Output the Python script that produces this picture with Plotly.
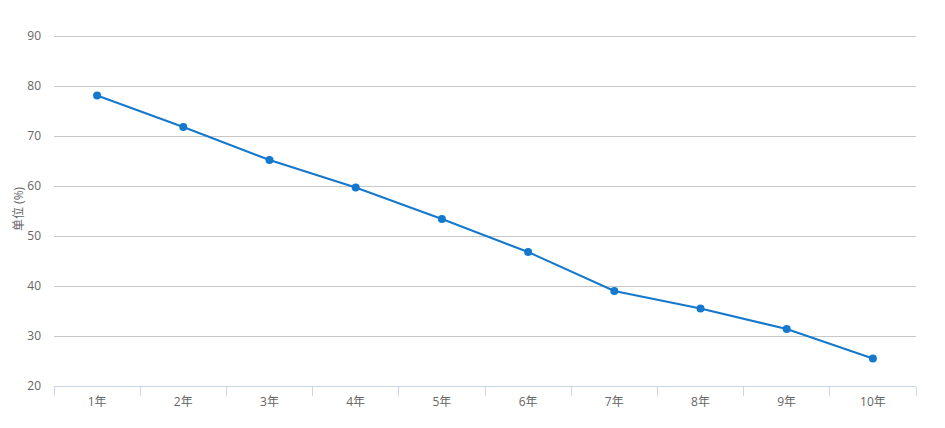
import plotly.graph_objects as go

categories = ["1年", "2年", "3年", "4年", "5年", "6年", "7年", "8年", "9年", "10年"]
values = [78.1, 71.8, 65.2, 59.7, 53.4, 46.8, 39.0, 35.5, 31.4, 25.5]
y_title = "单位 (%)"

fig = go.Figure(go.Scatter(
    x=categories, y=values, mode="lines+markers",
    line=dict(color="#1478cc", width=2),
    marker=dict(color="#1478cc", size=8),
    hoverinfo="x+y",
))

# page body has an 8px default margin, so the figure is sized/offset accordingly
W, H = 937, 420
L, R, T, B = 46, 29, 23, 42
font = "Open Sans, Noto Sans CJK SC, sans-serif"
fig.update_layout(
    width=W, height=H,
    margin=dict(l=L, r=R, t=T, b=B, autoexpand=False),
    paper_bgcolor="white", plot_bgcolor="white",
    showlegend=False,
    font=dict(family=font, size=12, color="#666666"),
    xaxis=dict(
        type="category", tickson="boundaries", automargin=False,
        range=[-0.5, len(categories) - 0.5],
        ticks="outside", ticklen=9, tickcolor="#ccd6eb",
        showline=True, linecolor="#ccd6eb", linewidth=1,
        showgrid=False, zeroline=False, ticklabelstandoff=5,
        tickfont=dict(size=12, color="#666666"),
    ),
    yaxis=dict(
        range=[20, 91], dtick=10, tick0=20, automargin=False,
        showgrid=True, gridcolor="#c8c8c8", gridwidth=1,
        zeroline=False, showline=False,
        ticks="", ticklabelstandoff=12,
        tickfont=dict(size=12, color="#666666"),
    ),
    annotations=[dict(
        text=y_title, xref="paper", yref="y",
        x=-L / (W - L - R), y=55.5,
        xanchor="left", yanchor="middle", textangle=-90, showarrow=False,
        xshift=0, font=dict(size=12, color="#666666"),
    )],
)

fig.write_html("out.html")
